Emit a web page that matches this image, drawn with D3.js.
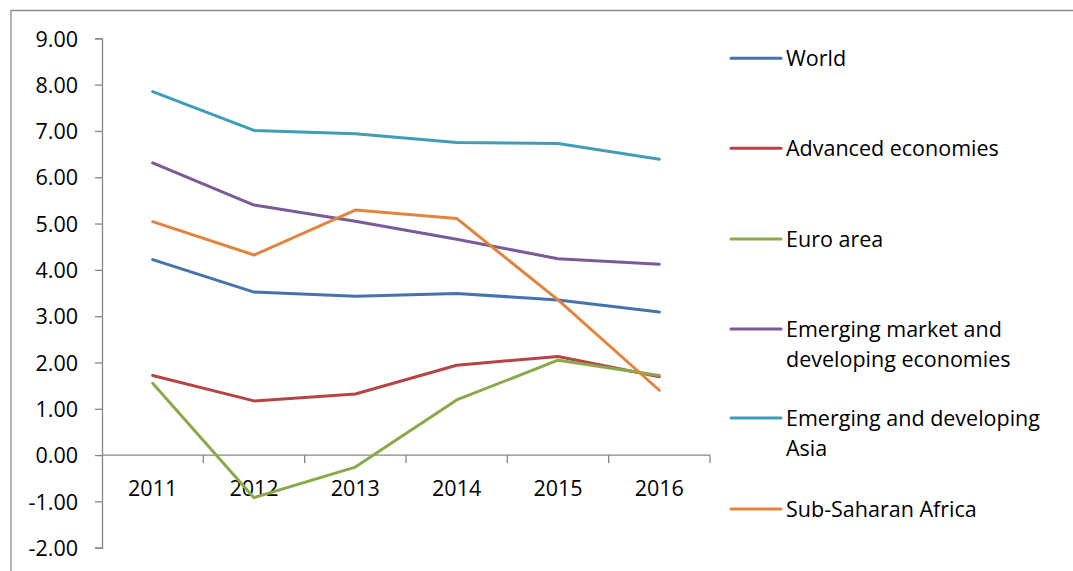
<!DOCTYPE html>
<html>
<head>
<meta charset="utf-8">
<script src="https://cdn.jsdelivr.net/npm/d3@7"></script>
<style>
  body { margin: 0; background: #fff; }
  text { font-family: "Open Sans", Lato, sans-serif; fill: #000; }
  .axis path, .axis line { stroke: #868686; stroke-width: 1.3; }
  .series { fill: none; stroke-width: 3; stroke-linejoin: round; stroke-linecap: round; }
</style>
</head>
<body>
<script>
const years = ["2011", "2012", "2013", "2014", "2015", "2016"];
const yTicks = [-2, -1, 0, 1, 2, 3, 4, 5, 6, 7, 8, 9];

const seriesNames = [
  ["World"],
  ["Advanced economies"],
  ["Euro area"],
  ["Emerging market and", "developing economies"],
  ["Emerging and developing", "Asia"],
  ["Sub-Saharan Africa"]
];
const world = [4.22, 3.52, 3.43, 3.49, 3.35, 3.09];
const advanced = [1.72, 1.17, 1.32, 1.94, 2.13, 1.69];
const euroArea = [1.55, -0.92, -0.26, 1.19, 2.05, 1.72];
const emergingMarket = [6.31, 5.40, 5.05, 4.66, 4.24, 4.12];
const emergingAsia = [7.85, 7.01, 6.94, 6.75, 6.73, 6.39];
const subSaharan = [5.04, 4.32, 5.29, 5.11, 3.35, 1.40];
const colors = ["#4473ad", "#b54545", "#89a94b", "#7a5b97", "#3f9db7", "#e2843e"];

const allSeries = [world, advanced, euroArea, emergingMarket, emergingAsia, subSaharan];

const width = 1073, height = 571;
const plot = { left: 102, right: 710, top: 38.3, bottom: 547.7 };
const fontSize = 21.5;

const svg = d3.select("body").append("svg")
  .attr("width", width)
  .attr("height", height);

// outer chart frame (only top and left edges show)
svg.append("path")
  .attr("d", "M11,571 V10.5 H1073")
  .attr("fill", "none")
  .attr("stroke", "#8c8c8c")
  .attr("stroke-width", 1.3);

const x = d3.scaleBand().domain(years).range([plot.left, plot.right]);
const y = d3.scaleLinear().domain([-2, 9]).range([plot.bottom, plot.top]);

// y axis, plain hyphen for negatives
svg.append("g")
  .attr("class", "axis")
  .attr("transform", "translate(" + plot.left + ",0)")
  .call(d3.axisLeft(y).tickValues(yTicks).tickSizeOuter(0).tickSize(7).tickPadding(17)
    .tickFormat(d => d.toFixed(2)))
  .call(g => g.selectAll("text").attr("font-size", fontSize).attr("dy", "0.36em"));

// x axis on zero line, ticks between categories
const xAxis = svg.append("g")
  .attr("class", "axis")
  .attr("transform", "translate(0," + y(0) + ")");
xAxis.append("line")
  .attr("x1", plot.left).attr("x2", plot.right);
xAxis.selectAll(".tick-mark")
  .data(years)
  .join("line")
  .attr("x1", d => x(d) + x.bandwidth())
  .attr("x2", d => x(d) + x.bandwidth())
  .attr("y1", 0).attr("y2", 8);
xAxis.selectAll(".year")
  .data(years)
  .join("text")
  .attr("x", d => x(d) + x.bandwidth() / 2)
  .attr("y", 41)
  .attr("text-anchor", "middle")
  .attr("font-size", fontSize)
  .text(d => d);

const line = d3.line()
  .x((d, i) => x(years[i]) + x.bandwidth() / 2)
  .y(d => y(d));

svg.selectAll(".series")
  .data(allSeries)
  .join("path")
  .attr("class", "series")
  .attr("stroke", (d, i) => colors[i])
  .attr("d", line);

// legend
const legendY = [58.3, 148.3, 239, 329, 418, 509];
const legend = svg.selectAll(".legend")
  .data(seriesNames)
  .join("g")
  .attr("transform", (d, i) => "translate(731," + legendY[i] + ")");
legend.append("line")
  .attr("x1", 0).attr("x2", 50)
  .attr("stroke", (d, i) => colors[i])
  .attr("stroke-width", 3)
  .attr("stroke-linecap", "round");
legend.append("text")
  .attr("x", 55)
  .attr("font-size", fontSize)
  .selectAll("tspan")
  .data(d => d)
  .join("tspan")
  .attr("x", 55)
  .attr("y", (d, i) => i * 30)
  .attr("dy", "0.36em")
  .text(d => d);
</script>
</body>
</html>
